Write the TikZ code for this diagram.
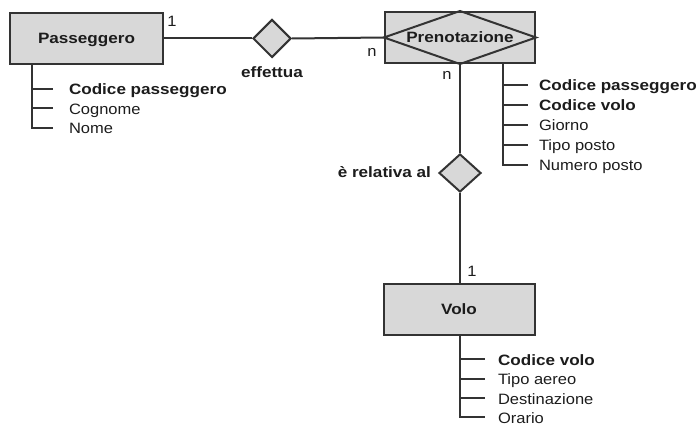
\documentclass[tikz,border=0pt]{standalone}
\usepackage{fontspec}
\setmainfont[FakeStretch=1.10,BoldFeatures={FakeStretch=1.14}]{Liberation Sans}
\usetikzlibrary{shapes.geometric}
\definecolor{boxfill}{HTML}{D8D8D8}
\definecolor{ink}{HTML}{333333}
\definecolor{txt}{HTML}{1C1C1C}
\begin{document}
\begin{tikzpicture}[x=1pt,y=-1pt,
  line width=2pt, draw=ink,
  every node/.style={text=txt,font=\fontsize{15}{18}\selectfont},
  entity/.style={draw=ink,fill=boxfill,rectangle,inner sep=0pt,
    minimum width=151pt,minimum height=51pt,
    text height=11pt,text depth=0pt,font=\fontsize{15}{18}\selectfont\bfseries},
  relation/.style={draw=ink,fill=boxfill,diamond,inner sep=0pt,aspect=1},
  attr/.style={anchor=base west,inner sep=0pt},
  keyattr/.style={attr,font=\fontsize{15}{18}\selectfont\bfseries},
  card/.style={inner sep=0pt,anchor=base},
  rlabel/.style={inner sep=0pt,font=\fontsize{15}{18}\selectfont\bfseries}]
\useasboundingbox (0,0) rectangle (698,427);

% entities and relationships
\node[entity,minimum width=153pt] (pass) at (86.5,38.5) {Passeggero};
\node[relation,minimum width=38pt,minimum height=38pt] (eff) at (272,38.5) {};
\node[entity,minimum width=150pt,text height=0pt] (pren) at (460,37.5) {};
\draw[ink] (pren.west) -- (pren.north) -- (pren.east) -- (pren.south) -- cycle;
\node[inner sep=0pt,anchor=base,font=\fontsize{15}{18}\selectfont\bfseries] (prenlbl) at (460,43) {Prenotazione};
\node[relation,minimum width=42pt,minimum height=38pt] (rel) at (460,173) {};
\node[entity] (volo) at (459,309.5) {Volo};

% connectors
\draw (pass.east) -- (eff.west);
\draw (eff.east) -- (pren.west);
\draw (pren.south) -- (rel.north);
\draw (rel.south) -- (rel.south |- volo.north);

% cardinalities and relationship names
\node[card] (c1) at (172,27) {1};
\node[card] (c2) at (372,57) {n};
\node[card] (c3) at (447,80) {n};
\node[card] (c4) at (472,277) {1};
\node[rlabel,anchor=base] (efflbl) at (272,78) {effettua};
\node[rlabel,anchor=base east] (rellbl) at (432,178) {è relativa al};

% attributes of Passeggero
\coordinate (pa0) at (32,64);
\coordinate (pa1) at (32,89);
\coordinate (pa2) at (32,108.5);
\coordinate (pa3) at (32,128);
\draw (pa0) -- (pa3) -- ++(21,0);
\draw (pa1) -- ++(21,0);
\draw (pa2) -- ++(21,0);
\node[keyattr] (pat1) at (68,95) {Codice passeggero};
\node[attr] (pat2) at (68,114.5) {Cognome};
\node[attr] (pat3) at (68,134) {Nome};

% attributes of Prenotazione
\coordinate (pr0) at (503,63);
\coordinate (pr1) at (503,85);
\coordinate (pr2) at (503,105);
\coordinate (pr3) at (503,125);
\coordinate (pr4) at (503,145);
\coordinate (pr5) at (503,165.5);
\draw (pr0) -- (pr5) -- ++(25,0);
\foreach \c in {pr1,pr2,pr3,pr4} \draw (\c) -- ++(25,0);
\node[keyattr] (prt1) at (538,91) {Codice passeggero};
\node[keyattr] (prt2) at (538,111) {Codice volo};
\node[attr] (prt3) at (538,131) {Giorno};
\node[attr] (prt4) at (538,151) {Tipo posto};
\node[attr] (prt5) at (538,171) {Numero posto};

% attributes of Volo
\coordinate (vo0) at (460,335);
\coordinate (vo1) at (460,359);
\coordinate (vo2) at (460,378.5);
\coordinate (vo3) at (460,398);
\coordinate (vo4) at (460,417);
\draw (vo0) -- (vo4) -- ++(25,0);
\foreach \c in {vo1,vo2,vo3} \draw (\c) -- ++(25,0);
\node[keyattr] (vot1) at (497,365) {Codice volo};
\node[attr] (vot2) at (497,384.5) {Tipo aereo};
\node[attr] (vot3) at (497,404) {Destinazione};
\node[attr] (vot4) at (497,423) {Orario};
\end{tikzpicture}
\end{document}
